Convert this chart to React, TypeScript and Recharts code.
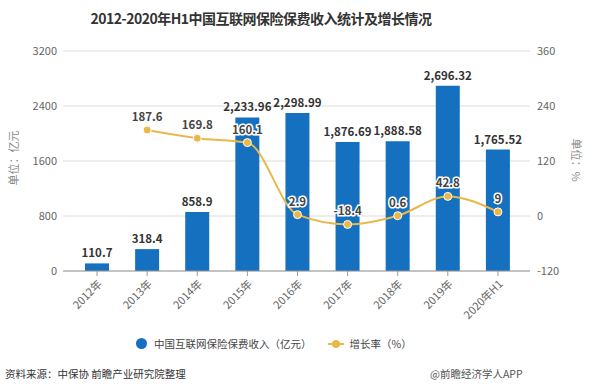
import {
  ComposedChart,
  Bar,
  Line,
  XAxis,
  YAxis,
  CartesianGrid,
  LabelList,
} from 'recharts'

const categories = [
  '2012年',
  '2013年',
  '2014年',
  '2015年',
  '2016年',
  '2017年',
  '2018年',
  '2019年',
  '2020年H1',
]
const premiumIncome = [110.7, 318.4, 858.9, 2233.96, 2298.99, 1876.69, 1888.58, 2696.32, 1765.52]
const growthRate: (number | null)[] = [null, 187.6, 169.8, 160.1, 2.9, -18.4, 0.6, 42.8, 9]
const leftTicks = [0, 800, 1600, 2400, 3200]
const rightTicks = [-120, 0, 120, 240, 360]

const BAR_COLOR = '#1570c0'
const LINE_COLOR = '#e8b84a'
const FONT = '"Noto Sans CJK SC", "Noto Sans", sans-serif'

const chartData = categories.map((name, i) => ({
  name,
  income: premiumIncome[i],
  rate: growthRate[i],
}))

const fmt = (v: number) =>
  v.toLocaleString('en-US', { maximumFractionDigits: 2 })

// rotated category labels under the axis
function XTick(props: any) {
  const { x, y, payload } = props
  return (
    <g transform={`translate(${x},${y + 1})`}>
      <text
        x={0}
        y={0}
        dy={8}
        textAnchor="end"
        fontSize={11}
        fill="#666"
        fontFamily={FONT}
        transform="rotate(-45)"
      >
        {payload.value}
      </text>
    </g>
  )
}

// growth labels: dark text with a white halo
function RateLabel(props: any) {
  const { x, y, value } = props
  if (value === null || value === undefined) return null
  return (
    <text
      x={x}
      y={y - 9}
      textAnchor="middle"
      fontSize={11.5}
      fontWeight="bold"
      fill="#444"
      stroke="#fff"
      strokeWidth={3}
      paintOrder="stroke"
      fontFamily={FONT}
    >
      {value}
    </text>
  )
}

export default function App() {
  return (
    <div
      style={{
        position: 'absolute',
        left: 0,
        top: 0,
        width: 596,
        height: 392,
        background: '#fff',
        fontFamily: FONT,
      }}
    >
      <div
        style={{
          position: 'absolute',
          left: 0,
          width: 522,
          top: 8,
          textAlign: 'center',
          fontSize: 14,
          fontWeight: 'bold',
          color: '#333',
          letterSpacing: -0.5,
        }}
      >
        2012-2020年H1中国互联网保险保费收入统计及增长情况
      </div>

      <div style={{ position: 'absolute', left: 0, top: 0 }}>
        <ComposedChart
          width={596}
          height={330}
          data={chartData}
          margin={{ top: 51, right: 0, bottom: 0, left: 0 }}
        >
          <CartesianGrid vertical={false} stroke="#dcdcdc" yAxisId="left" />
          <XAxis
            dataKey="name"
            height={59}
            padding={{ left: 9, right: 7 }}
            tick={<XTick />}
            tickSize={5}
            tickLine={{ stroke: '#999' }}
            axisLine={{ stroke: '#999' }}
            interval={0}
          />
          <YAxis
            yAxisId="left"
            orientation="left"
            width={63}
            domain={[0, 3200]}
            ticks={leftTicks}
            tickSize={0}
            tickMargin={6}
            axisLine={false}
            tick={{ fontSize: 11, fill: '#666', fontFamily: FONT }}
          />
          <YAxis
            yAxisId="right"
            orientation="right"
            width={66}
            domain={[-120, 360]}
            ticks={rightTicks}
            tickSize={0}
            tickMargin={7}
            axisLine={false}
            tick={{ fontSize: 11, fill: '#666', fontFamily: FONT }}
          />
          <Bar
            yAxisId="left"
            dataKey="income"
            fill={BAR_COLOR}
            barSize={24}
            isAnimationActive={false}
          >
            <LabelList
              dataKey="income"
              position="top"
              offset={6}
              formatter={(v: any) => fmt(Number(v))}
              style={{ fontSize: 11.5, fontWeight: 'bold', fill: '#333', fontFamily: FONT }}
            />
          </Bar>
          <Line
            yAxisId="right"
            dataKey="rate"
            type="monotone"
            stroke={LINE_COLOR}
            strokeWidth={2}
            dot={{ r: 4, fill: LINE_COLOR, stroke: '#fff', strokeWidth: 1 }}
            connectNulls={false}
            isAnimationActive={false}
          >
            <LabelList dataKey="rate" content={<RateLabel />} />
          </Line>
        </ComposedChart>
      </div>

      <div
        style={{
          position: 'absolute',
          left: 13,
          top: 158,
          transform: 'translate(-50%, -50%) rotate(-90deg)',
          fontSize: 11,
          color: '#888',
          whiteSpace: 'nowrap',
        }}
      >
        单位：亿元
      </div>
      <div
        style={{
          position: 'absolute',
          left: 577,
          top: 160,
          transform: 'translate(-50%, -50%) rotate(90deg)',
          fontSize: 11,
          color: '#888',
          whiteSpace: 'nowrap',
        }}
      >
        单位：%
      </div>

      {/* legend */}
      <div
        style={{
          position: 'absolute',
          top: 336,
          left: 136,
          display: 'flex',
          alignItems: 'center',
          fontSize: 10.5,
          color: '#444',
        }}
      >
        <span
          style={{
            width: 11,
            height: 11,
            borderRadius: '50%',
            background: BAR_COLOR,
            display: 'inline-block',
            marginRight: 7,
          }}
        />
        <span>中国互联网保险保费收入（亿元）</span>
        <span
          style={{
            position: 'relative',
            width: 16,
            height: 11,
            display: 'inline-block',
            marginLeft: 16,
            marginRight: 6,
          }}
        >
          <span
            style={{
              position: 'absolute',
              left: 0,
              top: 5,
              width: 16,
              height: 2,
              background: LINE_COLOR,
            }}
          />
          <span
            style={{
              position: 'absolute',
              left: 4,
              top: 2,
              width: 8,
              height: 8,
              borderRadius: '50%',
              background: LINE_COLOR,
            }}
          />
        </span>
        <span>增长率（%）</span>
      </div>

      <div
        style={{
          position: 'absolute',
          left: 5,
          top: 366,
          fontSize: 10.5,
          color: '#333',
        }}
      >
        资料来源：中保协 前瞻产业研究院整理
      </div>
      <div
        style={{
          position: 'absolute',
          left: 430,
          top: 366,
          fontSize: 10.5,
          color: '#555',
          whiteSpace: 'nowrap',
        }}
      >
        @前瞻经济学人APP
      </div>
    </div>
  )
}
